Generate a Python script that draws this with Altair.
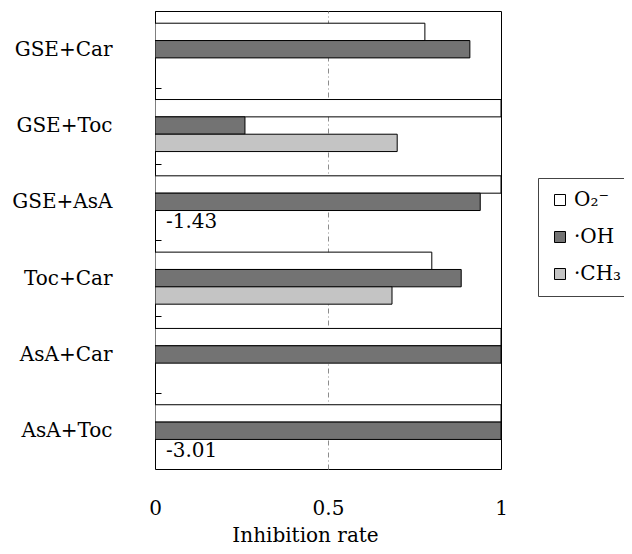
import altair as alt
import pandas as pd

FONT = "DejaVu Serif"

categories = ["GSE+Car", "GSE+Toc", "GSE+AsA", "Toc+Car", "AsA+Car", "AsA+Toc"]
series_labels = ["\u2002O\u2082\u207b", "\u00b7OH", "\u00b7CH\u2083"]
series_fills = ["#ffffff", "#737373", "#c4c4c4"]

o2_values = [0.78, 1.0, 1.0, 0.80, 1.0, 1.0]
oh_values = [0.91, 0.26, 0.94, 0.885, 1.0, 1.0]
ch3_values = [None, 0.70, -1.43, 0.685, None, -3.01]

x_ticks = [0, 0.5, 1]

rows = []
for s, vals in zip(series_labels, [o2_values, oh_values, ch3_values]):
    for c, v in zip(categories, vals):
        if v is None:
            continue
        rows.append({"combo": c, "series": s, "value": v, "label": f"{v:.2f}"})
df = pd.DataFrame(rows)

y_enc = alt.Y(
    "combo:N",
    sort=categories,
    scale=alt.Scale(paddingInner=0.318, paddingOuter=0.16),
    axis=alt.Axis(
        title=None,
        labelFont=FONT,
        labelFontSize=20,
        labelColor="black",
        labelAlign="right",
        labelBaseline="middle",
        labelPadding=43,
        ticks=True,
        tickSize=6,
        tickColor="black",
        tickWidth=1,
        tickOffset=-38,
        labelOffset=38,
        domain=False,
        grid=False,
        offset=-6,
    ),
)
yoff_enc = alt.YOffset(
    "series:N",
    sort=series_labels,
    scale=alt.Scale(domain=series_labels, paddingInner=0, paddingOuter=0),
)
x_scale = alt.Scale(domain=[0, 1], nice=False, zero=True)

base = alt.Chart(df)

bars = base.transform_filter("datum.value >= 0").mark_bar(
    stroke="black", strokeWidth=1, clip=True
).encode(
    x=alt.X(
        "value:Q",
        scale=x_scale,
        axis=alt.Axis(
            values=x_ticks,
            labelExpr="datum.value + ''",
            title="Inhibition rate",
            titleFont=FONT,
            titleFontSize=20,
            titleFontWeight="normal",
            titleColor="black",
            titleX=150,
            titleY=72,
            titleAlign="center",
            titleBaseline="alphabetic",
            labelFont=FONT,
            labelFontSize=20,
            labelColor="black",
            labelPadding=29,
            labelFlush=False,
            ticks=False,
            tickSize=0,
            domain=False,
            grid=True,
            gridColor="#8c8c8c",
            gridWidth=1,
            gridDash=[5, 3, 1, 3],
            gridOpacity={"condition": {"test": "datum.value == 0.5", "value": 1}, "value": 0},
        ),
    ),
    y=y_enc,
    yOffset=yoff_enc,
    fill=alt.Fill(
        "series:N",
        sort=series_labels,
        scale=alt.Scale(domain=series_labels, range=series_fills),
        legend=alt.Legend(
            title=None,
            orient="none",
            legendX=383,
            legendY=167,
            direction="vertical",
            padding=12,
            strokeColor="#444444",
            fillColor="white",
            symbolType="square",
            symbolSize=121,
            symbolStrokeColor="black",
            symbolStrokeWidth=1,
            labelFont=FONT,
            labelFontSize=20,
            labelColor="black",
            labelOffset=4,
            rowPadding=17,
        ),
    ),
)

neg_text = base.transform_filter("datum.value < 0").mark_text(
    align="left", baseline="middle", dx=11, dy=3, font=FONT, fontSize=20, color="black"
).encode(
    x=alt.datum(0, scale=x_scale),
    y=alt.Y("combo:N", sort=categories),
    yOffset=alt.YOffset("series:N", sort=series_labels),
    text="label:N",
)

chart = alt.layer(bars, neg_text).properties(
    width=346,
    height=458,
    autosize=alt.AutoSizeParams(type="none"),
    padding={"left": 147, "top": 3, "right": 123, "bottom": 77},
    background="white",
).configure_view(stroke="black", strokeWidth=1)

chart.save("out.html", embed_options={"renderer": "svg", "actions": False})
